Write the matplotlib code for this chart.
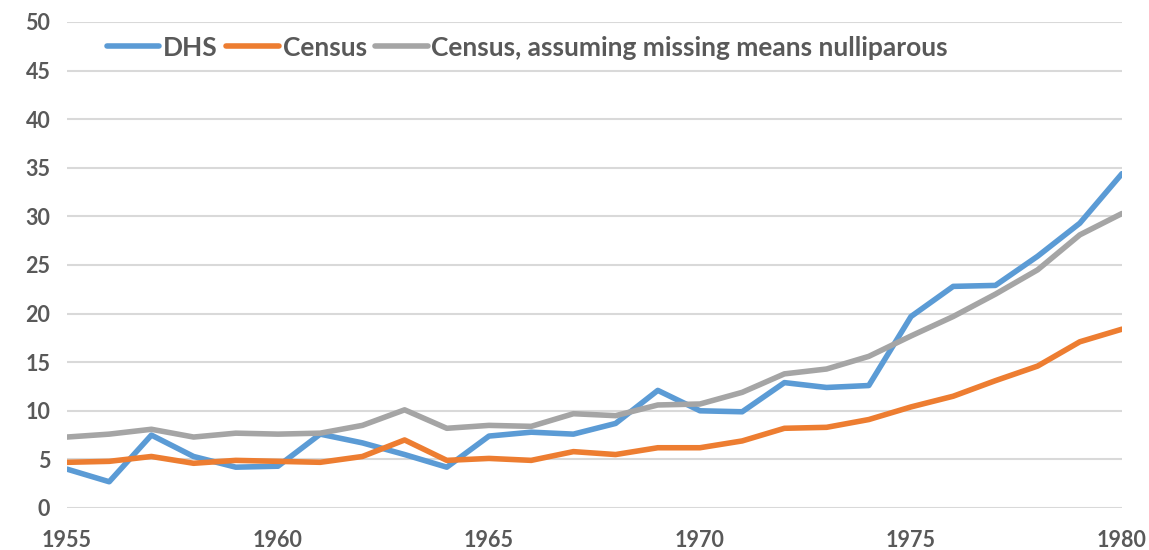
import matplotlib.pyplot as plt

# data
years = list(range(1955, 1981))
dhs = [4.0, 2.7, 7.5, 5.3, 4.2, 4.3, 7.6, 6.7, 5.5, 4.2, 7.4, 7.8, 7.6,
       8.7, 12.1, 10.0, 9.9, 12.9, 12.4, 12.6, 19.7, 22.8, 22.9, 25.9, 29.3, 34.4]
census = [4.7, 4.8, 5.3, 4.6, 4.9, 4.8, 4.7, 5.3, 7.0, 4.9, 5.1, 4.9, 5.8,
          5.5, 6.2, 6.2, 6.9, 8.2, 8.3, 9.1, 10.4, 11.5, 13.1, 14.6, 17.1, 18.4]
census_null = [7.3, 7.6, 8.1, 7.3, 7.7, 7.6, 7.7, 8.5, 10.1, 8.2, 8.5, 8.4, 9.7,
               9.5, 10.6, 10.7, 11.9, 13.8, 14.3, 15.6, 17.7, 19.7, 22.0, 24.5, 28.1, 30.3]
labels = ['DHS', 'Census', 'Census, assuming missing means nulliparous']
colors = ['#5b9bd5', '#ed7d31', '#a5a5a5']

plt.rcParams['font.family'] = ['Lato', 'DejaVu Sans']
plt.rcParams['font.weight'] = 'bold'

fig = plt.figure(figsize=(11.49, 5.5), dpi=100)
ax = fig.add_axes([67 / 1149, 1 - 508 / 550, (1122 - 67) / 1149, (508 - 22) / 550])

for ys, lab, c in zip([dhs, census, census_null], labels, colors):
    ax.plot(years, ys, color=c, lw=4, label=lab, solid_capstyle='round')

ax.set_xlim(1955, 1980)
ax.set_ylim(0, 50)
ax.set_xticks([1955, 1960, 1965, 1970, 1975, 1980])
ax.set_yticks(range(0, 51, 5))
ax.grid(axis='y', color='#d9d9d9', lw=1.5)
ax.set_axisbelow(True)
for s in ax.spines.values():
    s.set_visible(False)
ax.tick_params(length=0, labelsize=15.5, labelcolor='#595959', pad=12)
ax.tick_params(axis='x', pad=16)

ax.legend(loc='upper left', bbox_to_anchor=(0.02, 1.01), ncol=3, frameon=False,
          fontsize=19, labelcolor='#595959', handlelength=2.0, handletextpad=0.15,
          columnspacing=0.3, borderaxespad=0.3)

fig.savefig('out.png', dpi=100)
